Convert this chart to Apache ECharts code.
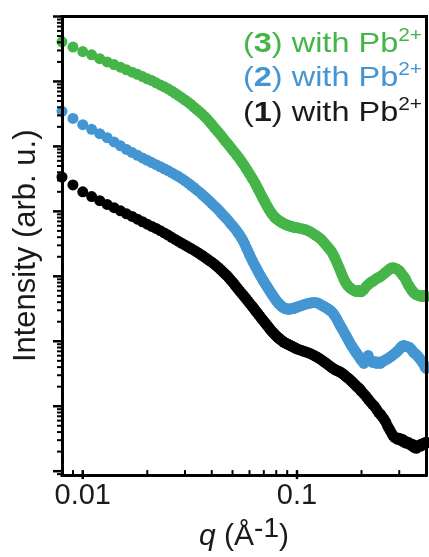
<!DOCTYPE html>
<html>
<head>
<meta charset="utf-8">
<title>SAXS curves with Pb2+</title>
<script src="https://cdn.jsdelivr.net/npm/echarts@6/dist/echarts.min.js"></script>
<style>
  html, body { margin: 0; padding: 0; background: #fff; }
  #main { width: 429px; height: 557px; }
</style>
</head>
<body>
<div id="main"></div>
<script>
// q values (1/Å), shared by all three curves
var qValues = [
  0.008, 0.009, 0.010, 0.011, 0.012, 0.013, 0.014, 0.015, 0.016, 0.017, 0.018, 0.019,
  0.020, 0.021, 0.022, 0.023, 0.024, 0.025, 0.026, 0.027, 0.028, 0.029, 0.030,
  0.031, 0.032, 0.033, 0.034, 0.035, 0.036, 0.037, 0.038, 0.039, 0.040,
  0.041, 0.042, 0.043, 0.044, 0.045, 0.046, 0.047, 0.048, 0.049, 0.050,
  0.051, 0.052, 0.053, 0.054, 0.055, 0.056, 0.057, 0.058, 0.059, 0.060,
  0.061, 0.062, 0.063, 0.064, 0.065, 0.066, 0.067, 0.068, 0.069, 0.070,
  0.071, 0.072, 0.073, 0.074, 0.075, 0.076, 0.077, 0.078, 0.079, 0.080,
  0.081, 0.082, 0.083, 0.084, 0.085, 0.086, 0.087, 0.088, 0.089, 0.090,
  0.091, 0.092, 0.093, 0.094, 0.095, 0.096, 0.097, 0.098, 0.099, 0.100,
  0.1025, 0.105, 0.1075, 0.110, 0.1125, 0.115, 0.1175, 0.120, 0.1225, 0.125,
  0.1275, 0.130, 0.1325, 0.135, 0.1375, 0.140, 0.1425, 0.145, 0.1475, 0.150,
  0.1525, 0.155, 0.1575, 0.160, 0.1625, 0.165, 0.1675, 0.170, 0.1725, 0.175,
  0.1775, 0.180, 0.1825, 0.185, 0.1875, 0.190, 0.1925, 0.195, 0.1975, 0.200,
  0.205, 0.210, 0.215, 0.220, 0.225, 0.230, 0.235, 0.240, 0.245, 0.250,
  0.255, 0.260, 0.265, 0.270, 0.275, 0.280, 0.285, 0.290, 0.295, 0.300,
  0.305, 0.310, 0.315, 0.320, 0.325, 0.330, 0.335, 0.340, 0.345, 0.350,
  0.355, 0.360, 0.365, 0.370, 0.375, 0.380, 0.385, 0.390, 0.395, 0.400
];

// (1) with Pb2+ (black)
var intensity1 = [
  3.37e4, 2.55e4, 2.00e4, 1.69e4, 1.46e4, 1.28e4, 1.14e4, 1.02e4, 9.18e3, 8.36e3, 7.59e3, 6.92e3,
  6.35e3, 5.86e3, 5.45e3, 5.04e3, 4.66e3, 4.31e3, 3.99e3, 3.69e3, 3.44e3, 3.22e3, 3.03e3,
  2.85e3, 2.68e3, 2.53e3, 2.38e3, 2.24e3, 2.11e3, 1.98e3, 1.86e3, 1.75e3, 1.65e3,
  1.55e3, 1.45e3, 1.36e3, 1.27e3, 1.18e3, 1.10e3, 1.03e3, 955, 884, 815,
  754, 695, 643, 593, 552, 514, 479, 446, 416, 388,
  362, 340, 318, 297, 278, 260, 244, 228, 215, 203,
  192, 181, 171, 162, 152, 144, 138, 132, 126, 121,
  116, 112, 109, 105, 102, 99.3, 96.5, 94.2, 92.5, 90.9,
  89.3, 87.7, 86.2, 84.7, 83.2, 81.7, 80.3, 78.9, 77.5, 76.2,
  74.3, 72.3, 70.2, 68.5, 66.8, 65.0, 62.7, 60.5, 58.4, 56.4,
  54.0, 51.6, 49.3, 47.2, 45.3, 43.3, 41.3, 39.6, 38.2, 36.9,
  35.8, 35.0, 34.1, 33.2, 32.0, 30.9, 29.6, 28.3, 27.3, 26.4,
  25.2, 24.1, 23.1, 22.1, 21.1, 20.2, 19.5, 18.8, 17.9, 16.9,
  15.5, 14.2, 12.8, 11.7, 10.7, 9.96, 8.96, 8.05, 7.52, 6.87,
  6.29, 5.66, 4.91, 4.42, 3.97, 3.57, 3.33, 3.27, 3.10, 3.21,
  2.99, 3.10, 2.79, 2.89, 2.69, 2.79, 2.60, 2.51, 2.60, 2.34,
  2.42, 2.25, 2.42, 2.51, 2.42, 2.60, 2.51, 2.69, 2.60, 2.79
];

// (2) with Pb2+ (blue)
var intensity2 = [
  3.47e5, 2.70e5, 2.16e5, 1.83e5, 1.57e5, 1.36e5, 1.17e5, 1.02e5, 9.00e4, 8.05e4, 7.29e4, 6.65e4,
  6.11e4, 5.64e4, 5.24e4, 4.86e4, 4.53e4, 4.24e4, 3.94e4, 3.67e4, 3.43e4, 3.18e4, 2.95e4,
  2.73e4, 2.52e4, 2.33e4, 2.15e4, 1.99e4, 1.83e4, 1.69e4, 1.56e4, 1.44e4, 1.33e4,
  1.23e4, 1.14e4, 1.05e4, 9.69e3, 8.93e3, 8.26e3, 7.64e3, 7.05e3, 6.49e3, 6.01e3,
  5.56e3, 5.13e3, 4.69e3, 4.30e3, 3.90e3, 3.54e3, 3.12e3, 2.76e3, 2.44e3, 2.15e3,
  1.92e3, 1.72e3, 1.56e3, 1.41e3, 1.28e3, 1.16e3, 1.06e3, 972, 899, 832,
  773, 720, 668, 623, 580, 542, 509, 478, 450, 423,
  403, 385, 369, 355, 344, 334, 326, 319, 316, 313,
  312, 313, 315, 316, 318, 320, 324, 328, 332, 337,
  346, 355, 365, 374, 381, 387, 392, 394, 393, 387,
  375, 361, 349, 337, 325, 313, 300, 287, 269, 249,
  227, 205, 186, 169, 155, 142, 129, 119, 109, 99.3,
  91.5, 84.7, 78.9, 73.5, 69.0, 65.0, 61.0, 57.4, 54.0, 50.7,
  45.6, 52.5, 60.5, 50.7, 47.2, 49.0, 45.6, 48.1, 45.6, 49.0,
  49.8, 52.5, 53.5, 56.4, 58.5, 61.6, 63.8, 67.3, 71.0, 74.8,
  80.3, 84.7, 86.1, 84.7, 83.2, 81.7, 80.3, 76.2, 72.3, 67.3,
  65.0, 62.7, 59.4, 56.4, 53.5, 50.7, 47.2, 44.8, 41.0, 38.2
];

// (3) with Pb2+ (green)
var intensity3 = [
  4.07e6, 3.39e6, 2.88e6, 2.57e6, 2.24e6, 2.00e6, 1.82e6, 1.66e6, 1.51e6, 1.39e6, 1.29e6, 1.19e6,
  1.10e6, 1.03e6, 9.51e5, 8.83e5, 8.26e5, 7.69e5, 7.13e5, 6.56e5, 6.07e5, 5.60e5, 5.18e5,
  4.79e5, 4.42e5, 4.04e5, 3.73e5, 3.44e5, 3.16e5, 2.89e5, 2.65e5, 2.40e5, 2.18e5,
  1.97e5, 1.79e5, 1.64e5, 1.50e5, 1.36e5, 1.24e5, 1.14e5, 1.05e5, 9.65e4, 8.84e4,
  8.15e4, 7.54e4, 6.95e4, 6.43e4, 5.88e4, 5.38e4, 4.93e4, 4.51e4, 4.13e4, 3.78e4,
  3.46e4, 3.17e4, 2.90e4, 2.65e4, 2.40e4, 2.18e4, 1.97e4, 1.79e4, 1.63e4, 1.49e4,
  1.37e4, 1.25e4, 1.16e4, 1.07e4, 1.00e4, 9.35e3, 8.81e3, 8.38e3, 8.03e3, 7.75e3,
  7.51e3, 7.27e3, 7.07e3, 6.90e3, 6.73e3, 6.59e3, 6.45e3, 6.34e3, 6.23e3, 6.14e3,
  6.05e3, 5.99e3, 5.92e3, 5.86e3, 5.80e3, 5.74e3, 5.70e3, 5.66e3, 5.62e3, 5.58e3,
  5.50e3, 5.41e3, 5.31e3, 5.21e3, 5.04e3, 4.86e3, 4.66e3, 4.45e3, 4.26e3, 4.07e3,
  3.86e3, 3.66e3, 3.41e3, 3.18e3, 2.96e3, 2.76e3, 2.57e3, 2.39e3, 2.15e3, 1.94e3,
  1.71e3, 1.51e3, 1.34e3, 1.18e3, 1.04e3, 922, 835, 773, 720, 682,
  657, 635, 618, 603, 590, 582, 599, 603, 576, 582,
  625, 695, 746, 800, 830, 875, 922, 955, 989, 1040,
  1100, 1160, 1220, 1290, 1340, 1360, 1340, 1310, 1270, 1220,
  1140, 1060, 989, 922, 830, 746, 695, 635, 603, 562,
  542, 524, 514, 506, 506, 488, 506, 488, 506, 488
];

var seriesNames = ['(1) with Pb2+', '(2) with Pb2+', '(3) with Pb2+'];
var seriesColors = ['#000000', '#4396d2', '#46b549'];
var legendTextColors = ['#1a1a1a', '#4396d2', '#46b549'];

// axis ticks
var xTickLabels = [0.01, 0.1];
var xTickTexts = ['0.01', '0.1'];
var xMinorTicks = [0.008, 0.009, 0.02, 0.03, 0.04, 0.05, 0.06, 0.07, 0.08, 0.09, 0.2, 0.3];
var yMajorTicks = [1, 10, 1e2, 1e3, 1e4, 1e5, 1e6, 1e7];
var yMinorTicks = [0.9];
for (var d = 1; d < 1e7; d *= 10) {
    for (var m = 2; m <= 9; m++) {
        yMinorTicks.push(m * d);
    }
}

var FONT = 'Liberation Sans, Arial, Helvetica, sans-serif';
var X_MIN = 0.008, X_MAX = 0.4, Y_MIN = 0.87, Y_MAX = 1e7;

function makePoints(values) {
    return qValues.map(function (q, i) { return [q, values[i]]; });
}

var xTickData = xMinorTicks.map(function (v) { return [v, 1000, 0]; })
    .concat(xTickLabels.map(function (v) { return [v, 1000, 1]; }));
var yTickData = yMinorTicks.map(function (v) { return [0.01, v, 0]; })
    .concat(yMajorTicks.map(function (v) { return [0.01, v, 1]; }));

function renderXTick(params, api) {
    var cs = params.coordSys;
    var x = api.coord([api.value(0), api.value(1)])[0];
    var y0 = cs.y + cs.height;
    var major = api.value(2) === 1;
    return {
        type: 'line',
        shape: { x1: x, y1: y0 - 5, x2: x, y2: major ? y0 + 4 : y0 },
        style: { stroke: '#000', lineWidth: major ? 2.5 : 2 }
    };
}

function renderYTick(params, api) {
    var cs = params.coordSys;
    var y = api.coord([api.value(0), api.value(1)])[1];
    var major = api.value(2) === 1;
    return {
        type: 'line',
        shape: { x1: cs.x - (major ? 9 : 5), y1: y, x2: cs.x, y2: y },
        style: { stroke: '#000', lineWidth: major ? 2.5 : 2 }
    };
}

var chart = echarts.init(document.getElementById('main'), null, { renderer: 'canvas' });

// legend text, stacked (3) / (2) / (1) from the top
var lineTops = [96.5, 61.5, 27];
var legendItems = [0, 1, 2].map(function (i) {
    return {
        type: 'text',
        x: 422,
        y: lineTops[i],
        scaleX: 1.16,
        z: 20,
        style: {
            text: '{p|(}{b|' + (i + 1) + '}{p|) with Pb}{s|2+}',
            align: 'right',
            verticalAlign: 'top',
            fill: legendTextColors[i],
            fontFamily: FONT,
            rich: {
                p: { fontSize: 28, lineHeight: 34, fontFamily: FONT },
                b: { fontSize: 28, lineHeight: 34, fontWeight: 'bold', fontFamily: FONT },
                s: { fontSize: 18, lineHeight: 18, verticalAlign: 'top', fontFamily: FONT }
            }
        }
    };
});

var scatterSeries = [2, 1, 0].map(function (i) {
    return {
        name: seriesNames[i],
        type: 'scatter',
        data: makePoints([intensity1, intensity2, intensity3][i]),
        symbol: 'circle',
        symbolSize: 11,
        itemStyle: { color: seriesColors[i], opacity: 1 },
        emphasis: { disabled: true },
        silent: true
    };
});

var option = {
    animation: false,
    backgroundColor: '#fff',
    grid: { left: 62, right: 2, top: 16.5, bottom: 81 },
    xAxis: [{
        type: 'log',
        min: X_MIN,
        max: X_MAX,
        z: 10,
        axisLine: { show: true, lineStyle: { color: '#000', width: 3, cap: 'square' } },
        axisTick: { show: false },
        splitLine: { show: false },
        axisLabel: {
            color: '#1a1a1a',
            fontSize: 29,
            fontFamily: FONT,
            margin: 6,
            showMinLabel: true,
            showMaxLabel: true,
            formatter: function (v) {
                for (var i = 0; i < xTickLabels.length; i++) {
                    if (Math.abs(v / xTickLabels[i] - 1) < 0.01) return xTickTexts[i];
                }
                return '';
            }
        },
        name: '{i|q}{n| (Å}{s|-1}{n|)}',
        nameLocation: 'middle',
        nameGap: 31,
        nameTextStyle: {
            color: '#1a1a1a',
            fontFamily: FONT,
            rich: {
                i: { fontSize: 30, lineHeight: 44, fontStyle: 'italic', fontFamily: FONT, color: '#1a1a1a' },
                n: { fontSize: 30, lineHeight: 44, fontFamily: FONT, color: '#1a1a1a' },
                s: { fontSize: 28, lineHeight: 20, verticalAlign: 'top', fontFamily: FONT, color: '#1a1a1a' }
            }
        }
    }, {
        type: 'log',
        position: 'top',
        min: X_MIN,
        max: X_MAX,
        z: 10,
        axisLine: { show: true, lineStyle: { color: '#000', width: 3, cap: 'square' } },
        axisTick: { show: false },
        axisLabel: { show: false },
        splitLine: { show: false }
    }],
    yAxis: [{
        type: 'log',
        min: Y_MIN,
        max: Y_MAX,
        z: 10,
        axisLine: { show: true, lineStyle: { color: '#000', width: 3, cap: 'square' } },
        axisTick: { show: false },
        axisLabel: { show: false },
        splitLine: { show: false },
        name: 'Intensity (arb. u.)',
        nameLocation: 'middle',
        nameGap: 20,
        nameTextStyle: { color: '#1a1a1a', fontSize: 31, fontFamily: FONT }
    }, {
        type: 'log',
        position: 'right',
        min: Y_MIN,
        max: Y_MAX,
        z: 10,
        axisLine: { show: true, lineStyle: { color: '#000', width: 3, cap: 'square' } },
        axisTick: { show: false },
        axisLabel: { show: false },
        splitLine: { show: false }
    }],
    series: scatterSeries.concat([{
        type: 'custom',
        name: 'xTicks',
        data: xTickData,
        encode: { x: 0, y: 1 },
        renderItem: renderXTick,
        clip: false,
        silent: true,
        z: 10
    }, {
        type: 'custom',
        name: 'yTicks',
        data: yTickData,
        encode: { x: 0, y: 1 },
        renderItem: renderYTick,
        clip: false,
        silent: true,
        z: 10
    }]),
    graphic: legendItems
};

chart.setOption(option);
</script>
</body>
</html>
